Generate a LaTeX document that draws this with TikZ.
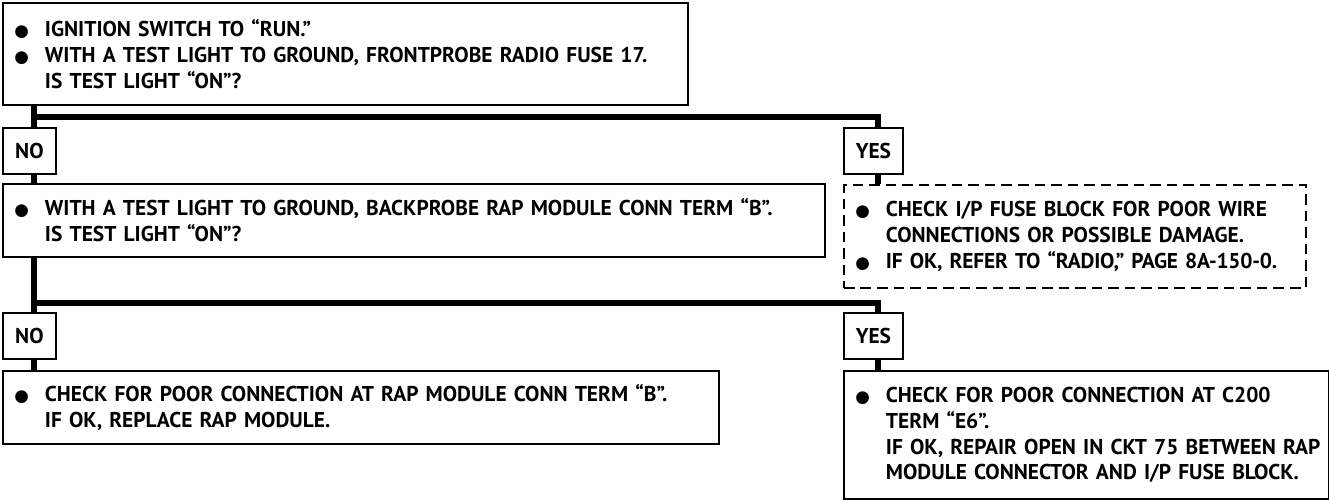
\documentclass[tikz,border=0pt]{standalone}
\usepackage{fontspec}
\setmainfont{PT Sans}
\newfontfamily\dotfont{DejaVu Sans}
\usetikzlibrary{calc}

% indent in front of every text line, bullet or not
\newlength{\indw}
\setlength{\indw}{0.84cm}
\newcommand{\bul}{\makebox[\indw][l]{\hspace{0.23cm}\raisebox{0.2pt}{\dotfont\fontsize{9.5}{9.5}\selectfont ●}}}
\newcommand{\nob}{\makebox[\indw]{}}

\begin{document}
\begin{tikzpicture}[
  font=\fontsize{12.2}{14.7}\selectfont\bfseries,
  box/.style={draw, line width=1.1pt, anchor=north west, align=left,
    inner xsep=0pt, inner ysep=0pt},
  dashbox/.style={box, dash pattern=on 6pt off 3.4pt},
  tag/.style={draw, line width=1.1pt, anchor=north west, inner sep=0pt,
    minimum height=0.92cm},
  link/.style={line width=3.2pt, line join=miter},
]
  \useasboundingbox (0,0) rectangle (26.58,-10.02);

  % first check
  \node[box, text width=13.70cm, minimum height=2.04cm] (q1) at (0.04,-0.04)
    {\bul IGNITION SWITCH TO “RUN.”\\
     \bul WITH A TEST LIGHT TO GROUND, FRONTPROBE RADIO FUSE 17.\\
     \nob IS TEST LIGHT “ON”?};

  \node[tag, minimum width=1.06cm] (no1) at (0.04,-2.54) {NO};
  \node[tag, minimum width=1.18cm] (yes1) at (16.86,-2.54) {YES};

  % second check
  \node[box, text width=16.44cm, minimum height=1.46cm] (q2) at (0.04,-3.66)
    {\bul WITH A TEST LIGHT TO GROUND, BACKPROBE RAP MODULE CONN TERM “B”.\\
     \nob IS TEST LIGHT “ON”?};

  \node[dashbox, text width=9.24cm, minimum height=2.06cm] (chk) at (16.86,-3.68)
    {\bul CHECK I/P FUSE BLOCK FOR POOR WIRE\\
     \nob CONNECTIONS OR POSSIBLE DAMAGE.\\
     \bul {\addfontfeature{LetterSpace=-1}IF OK, REFER TO “RADIO,” PAGE 8A-150-0.}};

  \node[tag, minimum width=1.06cm] (no2) at (0.04,-6.24) {NO};
  \node[tag, minimum width=1.18cm] (yes2) at (16.86,-6.24) {YES};

  % repairs
  \node[box, text width=14.32cm, minimum height=1.46cm] (fixa) at (0.04,-7.40)
    {\bul CHECK FOR POOR CONNECTION AT RAP MODULE CONN TERM “B”.\\
     \nob IF OK, REPLACE RAP MODULE.};

  \node[box, text width=9.70cm, minimum height=2.56cm] (fixb) at (16.86,-7.40)
    {\bul CHECK FOR POOR CONNECTION AT C200\\
     \nob TERM “E6”.\\
     \nob IF OK, REPAIR OPEN IN CKT 75 BETWEEN RAP\\
     \nob MODULE CONNECTOR AND I/P FUSE BLOCK.};

  % branch lines
  \coordinate (fork1) at (0.68,-2.34);
  \coordinate (turn1) at (17.56,-2.34);
  \coordinate (fork2) at (0.68,-6.06);
  \coordinate (turn2) at (17.56,-6.06);

  \draw[link] (q1.south -| fork1) -- (no1.north -| fork1);
  \draw[link] (fork1) -- (turn1) -- (yes1.north -| turn1);
  \draw[link] (no1.south -| fork1) -- (q2.north -| fork1);
  \draw[link] (yes1.south -| turn1) -- (chk.north -| turn1);

  \draw[link] (q2.south -| fork2) -- (no2.north -| fork2);
  \draw[link] (fork2) -- (turn2) -- (yes2.north -| turn2);
  \draw[link] (no2.south -| fork2) -- (fixa.north -| fork2);
  \draw[link] (yes2.south -| turn2) -- (fixb.north -| turn2);
\end{tikzpicture}
\end{document}
